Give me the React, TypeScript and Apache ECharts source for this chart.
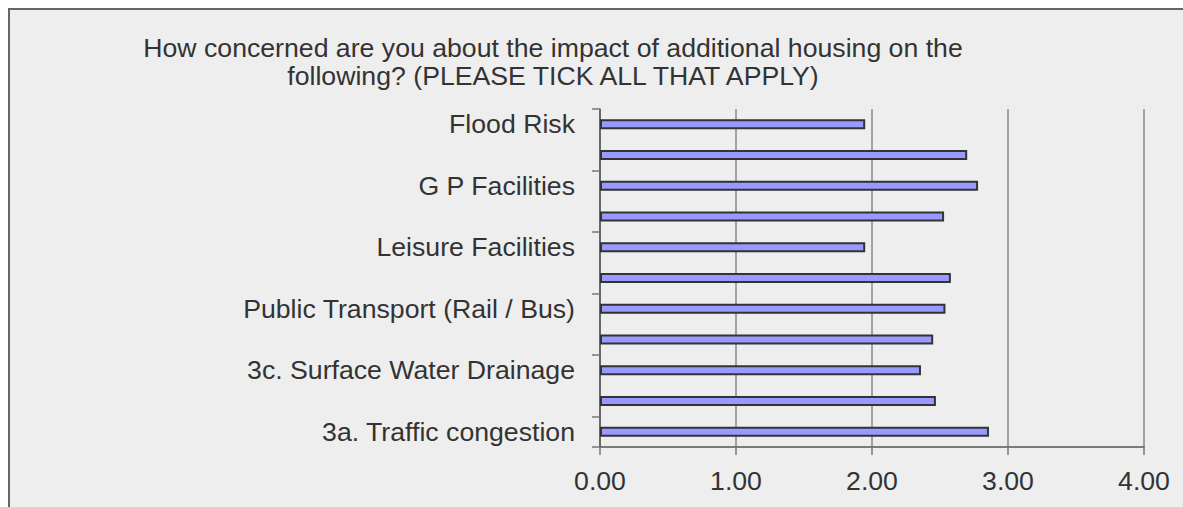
import React, { useEffect, useRef } from "react";
import * as echarts from "echarts";

const categories = [
  "Flood Risk",
  "Dental Facilities",
  "G P Facilities",
  "Schools",
  "Leisure Facilities",
  "Shops",
  "Public Transport (Rail / Bus)",
  "3d. Foul Water Drainage",
  "3c. Surface Water Drainage",
  "3b. Road Safety",
  "3a. Traffic congestion",
];
const values = [1.95, 2.7, 2.78, 2.53, 1.95, 2.58, 2.54, 2.45, 2.36, 2.47, 2.86];
const xTicks = [0, 1, 2, 3, 4];
const titleLines = [
  "How concerned are you about the impact of additional housing on the",
  "following? (PLEASE TICK ALL THAT APPLY)",
];

const FONT = "'Liberation Sans', Arial, sans-serif";

export default function App() {
  const ref = useRef<HTMLDivElement>(null);
  useEffect(() => {
    const chart = echarts.init(ref.current!, undefined, { renderer: "svg" });
    chart.setOption({
      animation: false,
      backgroundColor: "#eeeeee",
      graphic: titleLines.map((t, i) => ({
        type: "text",
        x: 543,
        y: 37.5 + i * 28,
        style: {
          text: t,
          textAlign: "center",
          textVerticalAlign: "middle",
          fontFamily: FONT,
          fontSize: 26.67,
          fill: "#333333",
        },
      })),
      grid: { left: 590, top: 99, width: 544, height: 338, containLabel: false },
      xAxis: {
        type: "value",
        min: xTicks[0],
        max: xTicks[xTicks.length - 1],
        interval: 1,
        axisLine: { show: true, lineStyle: { color: "#555555", width: 1.5 } },
        axisTick: { show: true, length: 8, lineStyle: { color: "#777777", width: 1.5 } },
        splitLine: { show: true, lineStyle: { color: "#888888", width: 1.5 } },
        axisLabel: {
          formatter: (v: number) => v.toFixed(2),
          fontFamily: FONT,
          fontSize: 26.67,
          color: "#333333",
          margin: 20,
        },
      },
      yAxis: {
        type: "category",
        inverse: true,
        data: categories,
        axisLine: { show: true, lineStyle: { color: "#555555", width: 1.5 } },
        axisTick: { show: true, length: 8, lineStyle: { color: "#777777", width: 1.5 } },
        axisLabel: {
          interval: 1,
          fontFamily: FONT,
          fontSize: 26.67,
          color: "#333333",
          margin: 25,
        },
      },
      series: [
        {
          type: "bar",
          data: values,
          barWidth: 10,
          itemStyle: { color: "#9999ff", borderColor: "#333333", borderWidth: 2 },
          silent: true,
        },
      ],
    });
    return () => chart.dispose();
  }, []);
  return (
    <div
      ref={ref}
      style={{
        position: "fixed",
        left: 8,
        top: 8,
        width: 1175,
        height: 499,
        boxSizing: "border-box",
        borderTop: "2px solid #666666",
        borderLeft: "2px solid #666666",
        background: "#eeeeee",
      }}
    />
  );
}
